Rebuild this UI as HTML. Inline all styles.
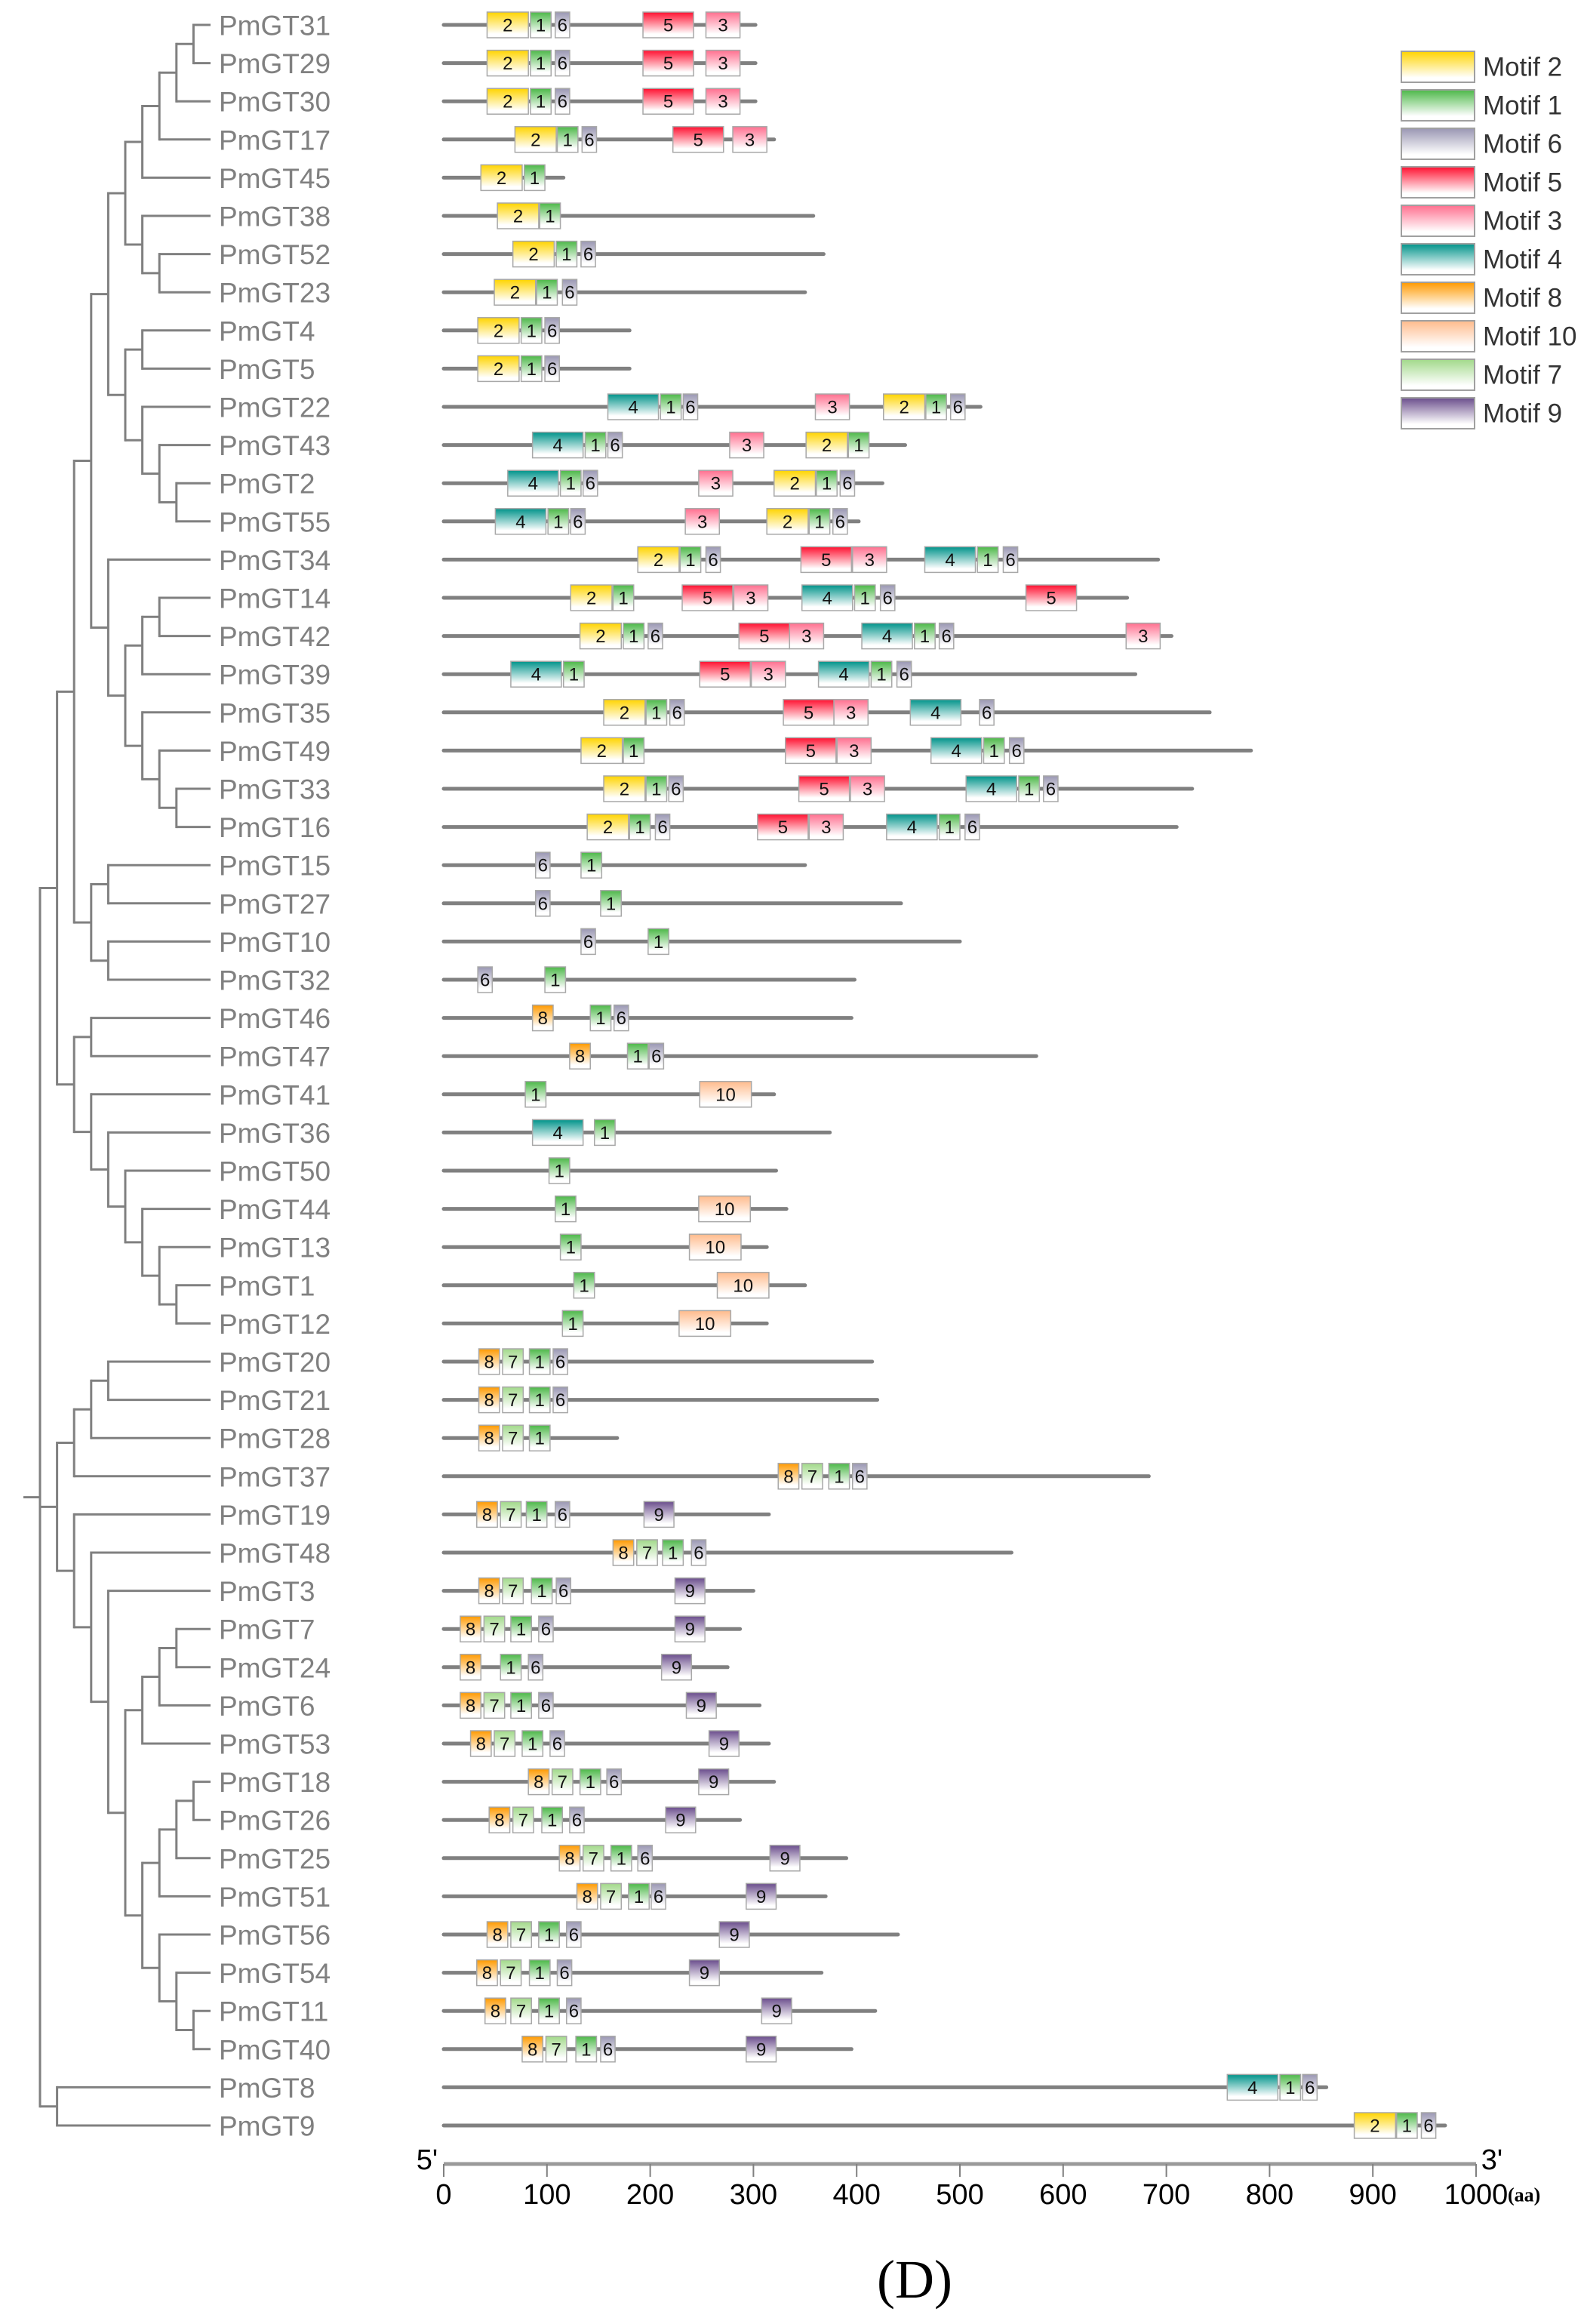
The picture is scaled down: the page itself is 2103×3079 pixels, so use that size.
<!DOCTYPE html>
<html><head><meta charset="utf-8"><style>
html,body{margin:0;padding:0;background:#fff;}
svg{display:block;}
.lbl{font-family:"Liberation Sans",sans-serif;font-size:37px;fill:#808080;}
.num{font-family:"Liberation Sans Narrow","Liberation Sans",sans-serif;font-size:24px;fill:#111;}
.leg{font-family:"Liberation Sans",sans-serif;font-size:35px;fill:#333;}
.tick{font-family:"Liberation Sans Narrow","Liberation Sans",sans-serif;font-size:38px;fill:#000;}
</style></head><body>
<svg id="chart" width="2103" height="3079" viewBox="0 0 2103 3079" xmlns="http://www.w3.org/2000/svg">
<defs id="defs"></defs>
<g id="tree"></g>
<g id="rows"></g>
<g id="legend"></g>
<g id="axis"></g>
<text x="1212" y="3020" text-anchor="middle" dominant-baseline="central" font-family="Liberation Serif, serif" font-size="72">(D)</text>
</svg>
<script>
const genes = ["PmGT31","PmGT29","PmGT30","PmGT17","PmGT45","PmGT38","PmGT52","PmGT23","PmGT4","PmGT5","PmGT22","PmGT43","PmGT2","PmGT55","PmGT34","PmGT14","PmGT42","PmGT39","PmGT35","PmGT49","PmGT33","PmGT16","PmGT15","PmGT27","PmGT10","PmGT32","PmGT46","PmGT47","PmGT41","PmGT36","PmGT50","PmGT44","PmGT13","PmGT1","PmGT12","PmGT20","PmGT21","PmGT28","PmGT37","PmGT19","PmGT48","PmGT3","PmGT7","PmGT24","PmGT6","PmGT53","PmGT18","PmGT26","PmGT25","PmGT51","PmGT56","PmGT54","PmGT11","PmGT40","PmGT8","PmGT9"];
const lengths = [302,302,302,320,116,358,368,350,180,180,520,447,425,402,692,662,705,670,742,782,725,710,350,443,500,398,395,574,320,374,322,332,313,350,313,415,420,168,683,315,550,300,287,275,306,315,320,287,390,370,440,366,418,395,855,970];
const motifs = [
 [[2,42],[1,84],[6,108],[5,193],[3,254]],
 [[2,42],[1,84],[6,108],[5,193],[3,254]],
 [[2,42],[1,84],[6,108],[5,193],[3,254]],
 [[2,69],[1,110],[6,134],[5,222],[3,280]],
 [[2,36],[1,78]],
 [[2,52],[1,93]],
 [[2,67],[1,109],[6,133]],
 [[2,49],[1,90],[6,115]],
 [[2,33],[1,75],[6,98]],
 [[2,33],[1,75],[6,98]],
 [[4,159],[1,210],[6,232],[3,360],[2,426],[1,467],[6,491]],
 [[4,86],[1,137],[6,159],[3,277],[2,351],[1,392]],
 [[4,62],[1,113],[6,135],[3,247],[2,320],[1,361],[6,384]],
 [[4,50],[1,101],[6,123],[3,234],[2,313],[1,354],[6,377]],
 [[2,188],[1,229],[6,254],[5,346],[3,396],[4,466],[1,517],[6,542]],
 [[2,123],[1,164],[5,231],[3,281],[4,347],[1,398],[6,423],[5,564]],
 [[2,132],[1,174],[6,198],[5,286],[3,335],[4,405],[1,456],[6,480],[3,661]],
 [[4,65],[1,116],[5,248],[3,298],[4,363],[1,414],[6,439]],
 [[2,155],[1,196],[6,219],[5,329],[3,378],[4,452],[6,519]],
 [[2,133],[1,174],[5,331],[3,381],[4,472],[1,523],[6,548]],
 [[2,155],[1,196],[6,218],[5,344],[3,394],[4,506],[1,557],[6,581]],
 [[2,139],[1,180],[6,205],[5,304],[3,354],[4,429],[1,480],[6,505]],
 [[6,89],[1,133]],
 [[6,89],[1,152]],
 [[6,133],[1,198]],
 [[6,33],[1,98]],
 [[8,86],[1,142],[6,165]],
 [[8,122],[1,178],[6,199]],
 [[1,79],[10,248]],
 [[4,86],[1,146]],
 [[1,102]],
 [[1,108],[10,247]],
 [[1,113],[10,238]],
 [[1,126],[10,265]],
 [[1,115],[10,228]],
 [[8,34],[7,57],[1,83],[6,106]],
 [[8,34],[7,57],[1,83],[6,106]],
 [[8,34],[7,57],[1,83]],
 [[8,324],[7,347],[1,373],[6,396]],
 [[8,32],[7,55],[1,80],[6,108],[9,194]],
 [[8,164],[7,187],[1,212],[6,240]],
 [[8,34],[7,57],[1,85],[6,109],[9,224]],
 [[8,16],[7,39],[1,65],[6,92],[9,224]],
 [[8,16],[1,55],[6,82],[9,211]],
 [[8,16],[7,39],[1,65],[6,92],[9,235]],
 [[8,26],[7,49],[1,76],[6,103],[9,257]],
 [[8,82],[7,105],[1,132],[6,158],[9,247]],
 [[8,44],[7,67],[1,95],[6,122],[9,215]],
 [[8,112],[7,135],[1,162],[6,188],[9,316]],
 [[8,129],[7,152],[1,179],[6,201],[9,293]],
 [[8,42],[7,65],[1,92],[6,119],[9,267]],
 [[8,32],[7,55],[1,83],[6,110],[9,238]],
 [[8,40],[7,65],[1,92],[6,119],[9,308]],
 [[8,76],[7,99],[1,128],[6,152],[9,293]],
 [[4,759],[1,810],[6,832]],
 [[2,882],[1,923],[6,947]]
];
const motifWidth = {1:20,2:40,3:33,4:49,5:49,6:14,7:20,8:20,9:29,10:50};
const motifColor = {1:"#4cb848",2:"#ffd400",3:"#ff6f8f",4:"#00938a",5:"#ff1030",6:"#9a97b3",7:"#a2d98a",8:"#ff9a00",9:"#6a4d8c",10:"#ffbb8c"};
const legendOrder = [2,1,6,5,3,4,8,10,7,9];
const tickValues = [0,100,200,300,400,500,600,700,800,900,1000];

const NS="http://www.w3.org/2000/svg";
function el(tag,attrs,parent){const e=document.createElementNS(NS,tag);for(const k in attrs)e.setAttribute(k,attrs[k]);parent.appendChild(e);return e;}
const X0=588, SC=1.368, Y0=33, DY=50.6, BH=34;
const xs=v=>X0+v*SC;
const ys=i=>Y0+i*DY;
const defs=document.getElementById('defs');
for(const m in motifColor){
  const g=el('linearGradient',{id:'g'+m,x1:0,y1:0,x2:0,y2:1},defs);
  el('stop',{offset:'0','stop-color':motifColor[m]},g);
  el('stop',{offset:'0.85','stop-color':'#ffffff'},g);
  el('stop',{offset:'1','stop-color':'#ffffff'},g);
}
const rows=document.getElementById('rows');
genes.forEach((name,i)=>{
  const y=ys(i);
  const t=el('text',{x:290,y:y+1,class:'lbl','dominant-baseline':'central'},rows);
  t.textContent=name;
  
  
  const ln=el('line',{x1:xs(0),x2:xs(lengths[i]),y1:y,y2:y,stroke:'#808080','stroke-width':5,'stroke-linecap':'round'},rows);
  
  
  motifs[i].forEach(([m,s])=>{
    const w=motifWidth[m]*SC;
    const r=el('rect',{x:xs(s),y:y-BH/2,width:w,height:BH,fill:'url(#g'+m+')',stroke:'#a8a8a8','stroke-width':1.5},rows);
    
    
    const tx=el('text',{x:xs(s)+w/2,y:y+1,class:'num','text-anchor':'middle','dominant-baseline':'central'},rows);
    tx.textContent=m;
  });
});
function N(l,...c){return {l,c};}
const T1=N(1,N(2,N(3,N(4,N(5,N(6,N(7,N(8,N(9,0,1),2),3),4),N(6,5,N(7,6,7))),N(5,N(6,8,9),N(6,10,N(7,11,N(8,12,13))))),N(4,14,N(5,N(6,N(7,15,16),17),N(6,18,N(7,19,N(8,20,21)))))),N(3,N(4,22,23),N(4,24,25))),N(2,N(3,26,27),N(3,28,N(4,29,N(5,30,N(6,31,N(7,32,N(8,33,34))))))));
const T2=N(1,N(2,N(3,N(4,35,36),37),38),N(2,39,N(3,40,N(4,41,N(5,N(6,N(7,N(8,42,43),44),45),N(6,N(7,N(8,N(9,46,47),48),49),N(7,50,N(8,51,N(9,52,53)))))))));
const root=N(0,T1,T2,N(1,54,55));
const tree=document.getElementById('tree');
const LX=k=>53+22.6*k, TIP=279;
function draw(n){
  if(typeof n==='number') return {y:ys(n),x:TIP};
  const ch=n.c.map(draw);
  const x=LX(n.l);
  ch.forEach(c=>{el('line',{x1:x,x2:c.x,y1:c.y,y2:c.y,stroke:'#808080','stroke-width':3},tree);});
  const y1=ch[0].y,y2=ch[ch.length-1].y;
  el('line',{x1:x,x2:x,y1:y1-1.5,y2:y2+1.5,stroke:'#808080','stroke-width':3},tree);
  return {x,y:(y1+y2)/2};
}
const r0=draw(root);
el('line',{x1:31,x2:r0.x,y1:r0.y,y2:r0.y,stroke:'#808080','stroke-width':3},tree);
const leg=document.getElementById('legend');
legendOrder.forEach((m,i)=>{
  const y=68+i*51;
  const r=el('rect',{x:1857,y:y,width:97,height:41,fill:'url(#g'+m+')',stroke:'#a0a0a0','stroke-width':2},leg);
  
  
  const t=el('text',{x:1965,y:y+21,class:'leg','dominant-baseline':'central'},leg);
  t.textContent='Motif '+m;
  
  
});
const ax=document.getElementById('axis');
const AY=2867;
el('line',{x1:xs(0),x2:xs(1000),y1:AY,y2:AY,stroke:'#9a9a9a','stroke-width':5},ax);
tickValues.forEach(v=>{
  el('line',{x1:xs(v),x2:xs(v),y1:AY,y2:AY+17,stroke:'#808080','stroke-width':2},ax);
  const t=el('text',{x:xs(v),y:2908,class:'tick','text-anchor':'middle','dominant-baseline':'central'},ax);
  t.textContent=v;
  
  
});
const aa=el('text',{x:xs(1000)+42,y:2908,'font-family':'Liberation Serif, serif','font-weight':'bold','font-size':26,'dominant-baseline':'central'},ax);
aa.textContent='(aa)';
const p5=el('text',{x:566,y:2862,class:'tick','text-anchor':'middle','dominant-baseline':'central'},ax);
p5.textContent="5'";
const p3=el('text',{x:1977,y:2862,class:'tick','text-anchor':'middle','dominant-baseline':'central'},ax);
p3.textContent="3'";
</script>
</body></html>
